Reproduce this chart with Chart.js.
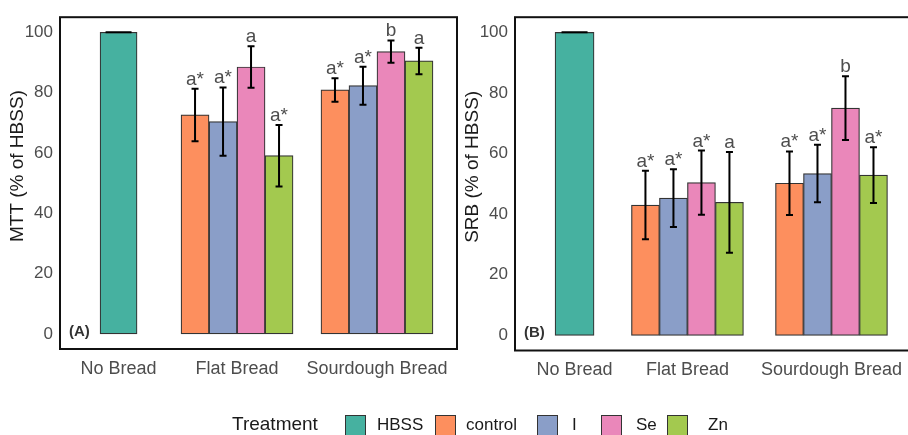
<!DOCTYPE html>
<html>
<head>
<meta charset="utf-8">
<script src="https://cdn.jsdelivr.net/npm/chart.js@4.4.1/dist/chart.umd.min.js"></script>
<style>
  html, body { margin: 0; padding: 0; background: #fff; width: 908px; height: 435px; overflow: hidden; }
  #wrap { position: relative; width: 908px; height: 435px; overflow: hidden; font-family: "Liberation Sans", Arial, sans-serif; }
  #wrap canvas { position: absolute; top: 0; }
  #mtt { left: 0; }
  #srb { left: 455px; }
  #legend { position: absolute; left: 0; top: 0; width: 908px; height: 435px; pointer-events: none; }
  #legend .title { position: absolute; top: 413px; font-size: 19px; color: #1a1a1a; white-space: nowrap; }
  #legend .key { position: absolute; top: 415px; width: 21px; height: 21px; border: 1px solid #333; box-sizing: border-box; }
  #legend .lab { position: absolute; top: 415px; font-size: 17px; color: #1a1a1a; white-space: nowrap; }
</style>
</head>
<body>
<div id="wrap">
  <canvas id="mtt" width="460" height="395"></canvas>
  <canvas id="srb" width="460" height="395"></canvas>
  <div id="legend"></div>
</div>
<script>
// ---- data -------------------------------------------------------------
const groups = ['No Bread', 'Flat Bread', 'Sourdough Bread'];
const treatments = ['HBSS', 'control', 'I', 'Se', 'Zn'];
const yTicks = [0, 20, 40, 60, 80, 100];

// MTT (% of HBSS): HBSS reference, then control / I / Se / Zn per bread
const mttNoBread = [100];
const mttNoBreadErr = [0];
const mttFlat = [72.6, 70.4, 88.5, 59.1];
const mttFlatErr = [8.7, 11.3, 6.9, 10.2];
const mttFlatSig = ['a*', 'a*', 'a', 'a*'];
const mttSour = [80.9, 82.3, 93.6, 90.5];
const mttSourErr = [3.9, 6.3, 3.7, 4.4];
const mttSourSig = ['a*', 'a*', 'b', 'a'];

// SRB (% of HBSS)
const srbNoBread = [100];
const srbNoBreadErr = [0];
const srbFlat = [43.0, 45.3, 50.4, 43.9];
const srbFlatErr = [11.3, 9.5, 10.6, 16.6];
const srbFlatSig = ['a*', 'a*', 'a*', 'a'];
const srbSour = [50.2, 53.4, 75.0, 52.9];
const srbSourErr = [10.5, 9.5, 10.5, 9.2];
const srbSourSig = ['a*', 'a*', 'b', 'a*'];

// ---- style / layout ---------------------------------------------------
const colors = ['#46b1a0', '#fd8f5e', '#8a9ec8', '#ea87ba', '#a3c94f'];
const FONT = '"Liberation Sans", Arial, sans-serif';
// x positions of the three bread groups on each panel's 0..3.2 axis
const mttGroupX = [0.472, 1.427, 2.555];
const srbGroupX = [0.48, 1.39, 2.551];
const X_MAX = 3.2;

// error bars, significance letters, panel tag, y title and frame
const panelDecor = {
  id: 'panelDecor',
  afterDatasetsDraw(chart, args, opts) {
    const { ctx, chartArea: a, scales: { y } } = chart;
    ctx.save();
    chart.data.datasets.forEach((ds, di) => {
      const meta = chart.getDatasetMeta(di);
      meta.data.forEach((bar, i) => {
        const pt = ds.data[i];
        if (!pt || pt.y == null) return;
        const e = ds.errors[i] || 0;
        const yt = y.getPixelForValue(pt.y + e);
        const yb = y.getPixelForValue(pt.y - e);
        const cw = ds.capWidth / 2;
        ctx.strokeStyle = '#000';
        ctx.lineWidth = 2;
        ctx.beginPath();
        ctx.moveTo(bar.x, yt); ctx.lineTo(bar.x, yb);
        ctx.moveTo(bar.x - cw, yt); ctx.lineTo(bar.x + cw, yt);
        ctx.moveTo(bar.x - cw, yb); ctx.lineTo(bar.x + cw, yb);
        ctx.stroke();
        const sig = ds.letters[i];
        if (sig) {
          ctx.fillStyle = '#4d4d4d';
          ctx.font = '19px ' + FONT;
          ctx.textAlign = 'center';
          ctx.textBaseline = 'alphabetic';
          ctx.fillText(sig, bar.x, yt - 4);
        }
      });
    });
    // panel tag
    ctx.fillStyle = '#333';
    ctx.font = 'bold 15px ' + FONT;
    ctx.textAlign = 'left';
    ctx.textBaseline = 'middle';
    ctx.fillText(opts.tag, a.left + 9, y.getPixelForValue(0) - 2);
    // y axis title, sitting a little above the panel's middle
    ctx.save();
    ctx.translate(18, (a.top + a.bottom) / 2 - 17);
    ctx.rotate(-Math.PI / 2);
    ctx.fillStyle = '#1a1a1a';
    ctx.font = '19px ' + FONT;
    ctx.textAlign = 'center';
    ctx.textBaseline = 'middle';
    ctx.fillText(opts.yTitle, 0, 0);
    ctx.restore();
    // frame
    ctx.strokeStyle = '#111';
    ctx.lineWidth = 2;
    ctx.strokeRect(a.left, a.top, a.right - a.left, a.bottom - a.top);
    ctx.restore();
  }
};

function buildDatasets(groupX, noBread, noBreadErr, flat, flatErr, flatSig, sour, sourErr, sourSig, hbssWidth) {
  const sets = [{
    label: treatments[0],
    data: groups.map((g, i) => ({ x: groupX[i], y: i === 0 ? noBread[0] : null })),
    errors: [noBreadErr[0], null, null],
    letters: ['', '', ''],
    capWidth: 26,
    backgroundColor: colors[0],
    barThickness: hbssWidth
  }];
  for (let k = 0; k < 4; k++) {
    sets.push({
      label: treatments[k + 1],
      data: groups.map((g, i) => ({ x: groupX[i], y: i === 0 ? null : (i === 1 ? flat[k] : sour[k]) })),
      errors: [null, flatErr[k], sourErr[k]],
      letters: ['', flatSig[k], sourSig[k]],
      capWidth: 7,
      backgroundColor: colors[k + 1],
      barThickness: 28
    });
  }
  sets.forEach(s => { s.borderColor = '#333'; s.borderWidth = 1.2; s.borderSkipped = false; });
  return sets;
}

function makePanel(canvasId, yTitle, tag, groupX, datasets, chartBottom) {
  return new Chart(document.getElementById(canvasId), {
    type: 'bar',
    data: { datasets },
    plugins: [panelDecor],
    options: {
      responsive: false,
      animation: false,
      devicePixelRatio: 1,
      skipNull: true,
      layout: { padding: { left: 0, right: 3, top: 14, bottom: 0 } },
      plugins: {
        legend: { display: false },
        tooltip: { enabled: false },
        panelDecor: { tag, yTitle }
      },
      scales: {
        x: {
          type: 'linear',
          min: 0,
          max: X_MAX,
          offset: false,
          grid: { display: false, drawTicks: false, offset: false },
          border: { display: false },
          afterBuildTicks: s => { s.ticks = groupX.map(v => ({ value: v })); },
          afterFit: s => { s.height = 395 - chartBottom; },
          ticks: {
            autoSkip: false,
            maxRotation: 0,
            padding: 9,
            color: '#4d4d4d',
            font: { family: FONT, size: 18 },
            callback: (v, i) => groups[i]
          }
        },
        y: {
          min: -5,
          max: 105,
          grid: { display: false, drawTicks: false },
          border: { display: false },
          afterBuildTicks: s => { s.ticks = yTicks.map(v => ({ value: v })); },
          afterFit: s => { s.width = 60; },
          ticks: {
            padding: 7,
            color: '#4d4d4d',
            font: { family: FONT, size: 17 }
          },
          title: { display: false }
        }
      }
    }
  });
}

makePanel('mtt', 'MTT (% of HBSS)', '(A)', mttGroupX,
  buildDatasets(mttGroupX, mttNoBread, mttNoBreadErr, mttFlat, mttFlatErr, mttFlatSig, mttSour, mttSourErr, mttSourSig, 37), 349);
makePanel('srb', 'SRB (% of HBSS)', '(B)', srbGroupX,
  buildDatasets(srbGroupX, srbNoBread, srbNoBreadErr, srbFlat, srbFlatErr, srbFlatSig, srbSour, srbSourErr, srbSourSig, 39), 350.5);

// ---- legend -----------------------------------------------------------
const legendKeyX = [345, 435, 537, 601, 667];
const legendLabX = [377, 466, 572, 636, 708];
const legend = document.getElementById('legend');
const title = document.createElement('div');
title.className = 'title';
title.style.left = '232px';
title.textContent = 'Treatment';
legend.appendChild(title);
treatments.forEach((t, i) => {
  const key = document.createElement('div');
  key.className = 'key';
  key.style.left = legendKeyX[i] + 'px';
  key.style.background = colors[i];
  legend.appendChild(key);
  const lab = document.createElement('div');
  lab.className = 'lab';
  lab.style.left = legendLabX[i] + 'px';
  lab.textContent = t;
  legend.appendChild(lab);
});
</script>
</body>
</html>
